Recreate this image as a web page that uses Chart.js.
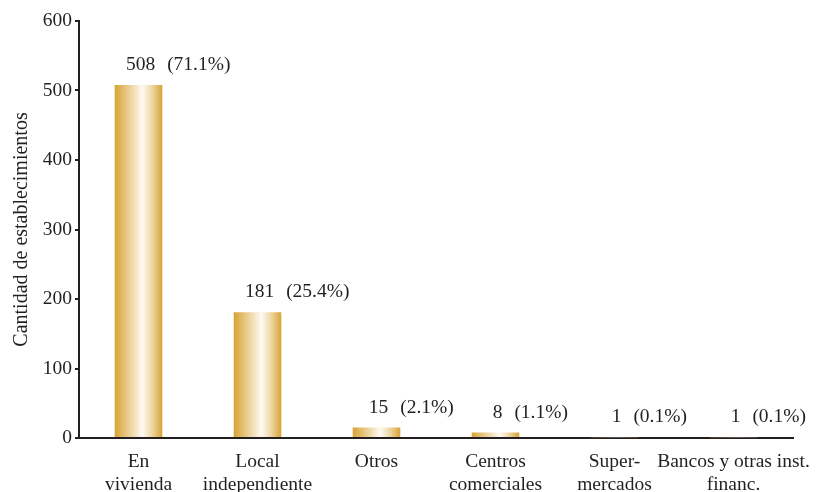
<!DOCTYPE html>
<html>
<head>
<meta charset="utf-8">
<script src="https://cdn.jsdelivr.net/npm/chart.js@4.4.1/dist/chart.umd.min.js"></script>
<style>
  html, body { margin: 0; padding: 0; background: #fff; }
  #wrap { width: 837px; height: 492px; }
</style>
</head>
<body>
<div id="wrap"><canvas id="estabChart"></canvas></div>
<script>
const categories = [
  ['En', 'vivienda'],
  ['Local', 'independiente'],
  ['Otros'],
  ['Centros', 'comerciales'],
  ['Super-', 'mercados'],
  ['Bancos y otras inst.', 'financ.']
];
const counts = [508, 181, 15, 8, 1, 1];
const percents = ['(71.1%)', '(25.4%)', '(2.1%)', '(1.1%)', '(0.1%)', '(0.1%)'];
const yTicks = [0, 100, 200, 300, 400, 500, 600];

const FONT = '"Liberation Serif", "Times New Roman", serif';
const INK = '#231f20';

function goldGradient(ctx) {
  const chart = ctx.chart;
  if (!chart.chartArea || !chart.scales.x) return '#d6a53a';
  const cx = chart.scales.x.getPixelForValue(ctx.dataIndex);
  const w = 48;
  const g = chart.ctx.createLinearGradient(cx - w / 2, 0, cx + w / 2, 0);
  g.addColorStop(0, '#d6a232');
  g.addColorStop(0.35, '#eed6a4');
  g.addColorStop(0.58, '#fffaf2');
  g.addColorStop(0.8, '#ecd39c');
  g.addColorStop(1, '#d6a232');
  return g;
}

// number over the bar, percentage to its right
const valueLabels = {
  id: 'valueLabels',
  afterDatasetsDraw(chart) {
    const ctx = chart.ctx;
    const meta = chart.getDatasetMeta(0);
    ctx.save();
    ctx.font = '19.5px ' + FONT;
    ctx.fillStyle = INK;
    ctx.textBaseline = 'middle';
    meta.data.forEach((bar, i) => {
      const y = bar.y - 20;
      const num = String(counts[i]);
      const nw = ctx.measureText(num).width;
      ctx.textAlign = 'center';
      ctx.fillText(num, bar.x + 2, y);
      ctx.textAlign = 'left';
      ctx.fillText(percents[i], bar.x + nw / 2 + 14, y);
    });
    ctx.restore();
  }
};

new Chart(document.getElementById('estabChart'), {
  type: 'bar',
  data: {
    labels: categories,
    datasets: [{
      data: counts,
      backgroundColor: goldGradient,
      borderWidth: 0,
      barPercentage: 0.4,
      categoryPercentage: 1
    }]
  },
  options: {
    responsive: true,
    maintainAspectRatio: false,
    animation: false,
    layout: { padding: { top: 21, right: 44, bottom: 0, left: 0 } },
    plugins: {
      legend: { display: false },
      tooltip: { enabled: false }
    },
    scales: {
      x: {
        grid: { display: false },
        border: { display: true, color: INK, width: 2 },
        ticks: {
          color: INK,
          font: { family: FONT, size: 19.5, lineHeight: 1.18 },
          padding: 4,
          maxRotation: 0,
          autoSkip: false
        },
        afterFit(scale) { scale.height = 54; }
      },
      y: {
        min: 0,
        max: 600,
        afterBuildTicks(scale) { scale.ticks = yTicks.map(v => ({ value: v })); },
        grid: { display: true, drawOnChartArea: false, drawTicks: true, tickLength: 4, color: INK, lineWidth: 2 },
        border: { display: true, color: INK, width: 2 },
        ticks: {
          color: INK,
          font: { family: FONT, size: 19.5 },
          padding: 3
        },
        title: {
          display: true,
          text: 'Cantidad de establecimientos',
          color: INK,
          font: { family: FONT, size: 20 },
          padding: { top: 10, bottom: 0 }
        },
        afterFit(scale) { scale.width = 79; }
      }
    }
  },
  plugins: [valueLabels]
});
</script>
</body>
</html>
